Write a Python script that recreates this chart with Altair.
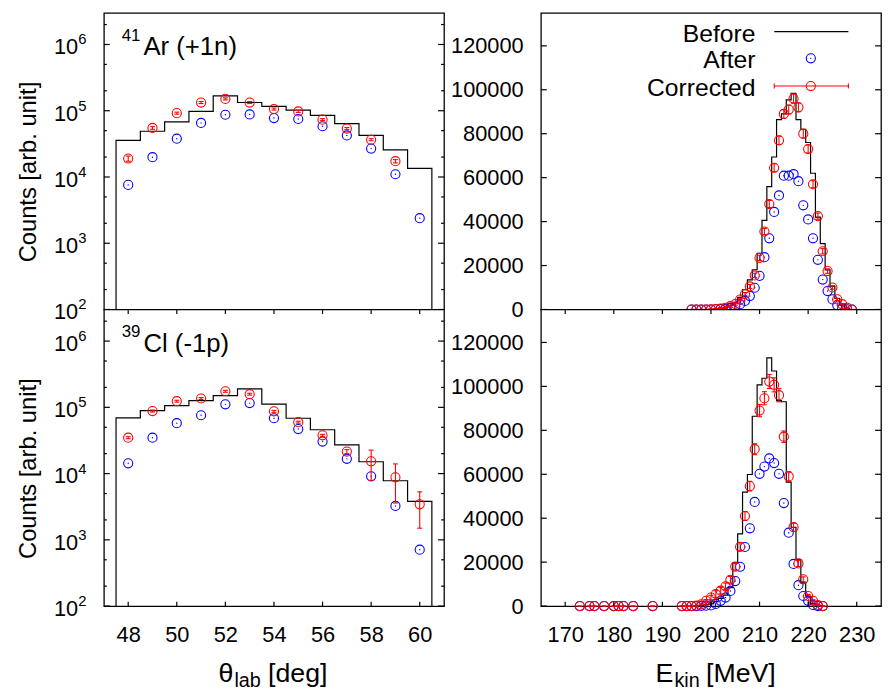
import altair as alt
import pandas as pd

FONT = "Liberation Sans"
W, H = 344, 300
BLUE = "#0000ff"
RED = "#ff0000"

# ---------------- left panels: theta_lab distributions (log scale) ----------------
theta = [48, 49, 50, 51, 52, 53, 54, 55, 56, 57, 58, 59, 60]
ar_before = [35600, 49000, 67800, 97700, 167500, 133000, 116000, 102400, 85000, 64000, 42400, 25600, 13500]
ar_after = [7600, 19900, 37800, 65500, 87000, 88000, 77600, 75000, 58300, 42400, 26800, 11000, 2390]
ar_corr_theta = [48, 49, 50, 51, 52, 53, 54, 55, 56, 57, 58, 59]
ar_corr = [19000, 55000, 92000, 133000, 151000, 133000, 106000, 97700, 73400, 53800, 36500, 17300]
ar_corr_lo = [17300, 52500, 88800, 128400, 145800, 128400, 102300, 94300, 70900, 51900, 35200, 16300]
ar_corr_hi = [20700, 57500, 95200, 137600, 156200, 137600, 109700, 101100, 75900, 55700, 37800, 18300]

cl_before = [69300, 89000, 106000, 126000, 150000, 190000, 112000, 68500, 45900, 27100, 15100, 7800, 3800]
cl_after = [14300, 34800, 57700, 76000, 111000, 116000, 68500, 47000, 30400, 16700, 9100, 3250, 710]
cl_corr = [34800, 88000, 124000, 136000, 175000, 158000, 87000, 59700, 37800, 21500, 15300, 8800, 3440]
cl_corr_lo = [33600, 85000, 120000, 131500, 169000, 153000, 84000, 57700, 36500, 20000, 7900, 3600, 1500]
cl_corr_hi = [36000, 91000, 128000, 140500, 181000, 163000, 90000, 61700, 39100, 23000, 22600, 14000, 5300]

log_major = [1e2, 1e3, 1e4, 1e5, 1e6]
log_exp = ["2", "3", "4", "5", "6"]
log_minor = [2e2, 5e2, 2e3, 5e3, 2e4, 5e4, 2e5, 5e5, 2e6]
theta_ticks = [48, 50, 52, 54, 56, 58, 60]

# ---------------- right panels: E_kin distributions (linear) ----------------
ek_top = list(range(196, 230))
before_top = [0, 0, 0, 0, 100, 300, 600, 1000, 1800, 3000, 5500, 9000, 13500, 18100, 25600, 40600, 55900,
              69400, 86400, 89000, 95400, 98400, 86400, 82000, 76000, 62000, 42000, 30000, 18000, 10600,
              5000, 2000, 500, 0]
after_top = [0, 0, 0, 0, 0, 100, 200, 300, 700, 1350, 2400, 3900, 6100, 9900, 15300, 23800, 32400, 44400,
             51900, 60900, 60900, 61600, 58400, 47400, 41000, 32400, 22600, 13600, 8400, 4600, 1900, 600,
             100, 0]
corr_top = [0, 0, 0, 0, 100, 200, 400, 800, 1500, 2500, 4500, 7000, 10500, 15500, 23500, 35500, 48000,
            64500, 77000, 89000, 91000, 96000, 92000, 80000, 73000, 57000, 42500, 26500, 17500, 10000,
            4600, 2400, 800, 0]
err_top = [0, 0, 0, 0, 100, 100, 200, 300, 400, 500, 600, 700, 900, 1000, 1200, 1400, 1600, 1800, 1900,
           2000, 2000, 2100, 2000, 1900, 1800, 1600, 1400, 1200, 1000, 800, 500, 300, 200, 0]

ek_bot_hist = list(range(194, 224))
before_bot = [0, 0, 0, 100, 300, 600, 1000, 2000, 3500, 5000, 8400, 19700, 32900, 51900, 59900, 86400,
              100700, 103700, 113000, 107000, 93500, 93000, 56400, 35900, 21200, 10600, 4600, 1000, 300, 0]
ek_bot = [173, 175, 176, 178, 180, 181, 182, 184, 188, 194, 195, 196, 197, 198, 199, 200, 201, 202, 203,
          204, 205, 206, 207, 208, 209, 210, 211, 212, 213, 214, 215, 216, 217, 218, 219, 220, 221, 222, 223]
after_bot = [0, 0, 0, 0, 0, 0, 0, 0, 0, 0, 0, 0, 0, 100, 200, 300, 1000, 2400, 3900, 6900, 11400, 17900,
             26900, 35400, 47400, 60200, 63500, 67200, 65100, 60200, 46900, 33400, 19200, 9500, 4600, 2400,
             500, 0, 0]
corr_bot = [0, 0, 0, 0, 0, 0, 0, 0, 0, 0, 0, 0, 200, 800, 2400, 3900, 5500, 7000, 9000, 12000, 18000,
            27000, 41000, 54600, 71400, 89000, 94600, 102200, 100700, 96000, 77100, 59000, 35900, 19400,
            12200, 4600, 2400, 500, 0]
err_bot = [0, 0, 0, 0, 0, 0, 0, 0, 0, 0, 0, 0, 100, 300, 600, 1000, 1500, 1500, 1500, 1500, 1600, 1800,
           2000, 2200, 2500, 2800, 3000, 3200, 3200, 3000, 2600, 2200, 1800, 1400, 1100, 700, 500, 200, 0]

lin_ticks = [0, 20000, 40000, 60000, 80000, 100000, 120000]
ek_ticks = [170, 180, 190, 200, 210, 220, 230]

legend_names = ["Before", "After", "Corrected"]


# ---------------- helpers ----------------
def step_frame(centers, values, floor):
    xs = [centers[0] - 0.5]
    ys = [floor]
    for c, v in zip(centers, values):
        xs.append(c - 0.5)
        ys.append(v)
    xs.append(centers[-1] + 0.5)
    ys.append(values[-1])
    xs.append(centers[-1] + 0.5)
    ys.append(floor)
    return pd.DataFrame({"x": xs, "y": ys, "i": list(range(len(xs)))})


def label(txt, x, y, size, align="left", baseline="alphabetic", angle=0, color="black"):
    kw = dict(align=align, baseline=baseline, font=FONT, fontSize=size, color=color)
    if angle:
        kw["angle"] = angle
    return alt.Chart(pd.DataFrame({"t": [txt]})).mark_text(**kw).encode(
        x=alt.value(x), y=alt.value(y), text="t:N")


def one():
    return pd.DataFrame({"k": [0]})


def data_layers(X, Y, centers, before, floor, ax, ay, cx, cy, lo, hi):
    hist = alt.Chart(step_frame(centers, before, floor)).mark_line(
        interpolate="step-after", color="black", strokeWidth=1.2).encode(
        x=X("x"), y=Y("y"), order="i:Q")
    adf = pd.DataFrame({"x": ax, "y": ay})
    blue = alt.Chart(adf).mark_point(shape="circle", filled=False, size=85, color=BLUE,
                                     strokeWidth=1.1, opacity=1).encode(x=X("x"), y=Y("y"))
    bdot = alt.Chart(adf).mark_point(shape="circle", filled=True, size=2, color=BLUE,
                                     opacity=1).encode(x=X("x"), y=Y("y"))
    cdf = pd.DataFrame({"x": cx, "y": cy, "lo": lo, "hi": hi})
    bar = alt.Chart(cdf).mark_rule(color=RED, strokeWidth=1.1).encode(
        x=X("x"), y=Y("lo"), y2=alt.Y2("hi"))
    cap_lo = alt.Chart(cdf).mark_tick(orient="horizontal", size=5, thickness=1.1, color=RED,
                                      opacity=1).encode(x=X("x"), y=Y("lo"))
    cap_hi = alt.Chart(cdf).mark_tick(orient="horizontal", size=5, thickness=1.1, color=RED,
                                      opacity=1).encode(x=X("x"), y=Y("hi"))
    red = alt.Chart(cdf).mark_point(shape="circle", filled=False, size=85, color=RED,
                                    strokeWidth=1.1, opacity=1).encode(x=X("x"), y=Y("y"))
    return [hist, blue, bdot, bar, cap_lo, cap_hi, red]


def yticks(Y, values, length):
    df = pd.DataFrame({"v": values})
    a = alt.Chart(df).mark_rule(color="black", strokeWidth=1.2).encode(
        y=Y("v"), x=alt.value(0), x2=alt.value(length))
    b = alt.Chart(df).mark_rule(color="black", strokeWidth=1.2).encode(
        y=Y("v"), x=alt.value(W), x2=alt.value(W - length))
    return [a, b]


def xticks(X, values, length):
    df = pd.DataFrame({"v": values})
    a = alt.Chart(df).mark_rule(color="black", strokeWidth=1.2).encode(
        x=X("v"), y=alt.value(H), y2=alt.value(H - length))
    b = alt.Chart(df).mark_rule(color="black", strokeWidth=1.2).encode(
        x=X("v"), y=alt.value(0), y2=alt.value(length))
    return [a, b]


def log_labels(Y):
    df = pd.DataFrame({"v": log_major, "e": log_exp, "b": ["10"] * len(log_major)})
    base = alt.Chart(df).mark_text(align="right", baseline="alphabetic", font=FONT, fontSize=22,
                                   dy=10, color="black").encode(y=Y("v"), x=alt.value(-26), text="b:N")
    sup = alt.Chart(df).mark_text(align="left", baseline="alphabetic", font=FONT, fontSize=15,
                                  color="black").encode(y=Y("v"), x=alt.value(-26), text="e:N")
    return [base, sup]


# ---------------- scales / encodings ----------------
theta_scale = alt.Scale(domain=[47, 61], nice=False, zero=False)
log_scale = alt.Scale(type="log", domain=[100, 3e6], nice=False)
ek_scale = alt.Scale(domain=[165, 235], nice=False, zero=False)
lin_scale = alt.Scale(domain=[0, 135000], nice=False, zero=False)

theta_axis_bottom = dict(values=theta_ticks, title=None, labelPadding=18.5, labelFontSize=22,
                         labelFont=FONT, labelColor="black", ticks=False, tickSize=0,
                         domain=False, grid=False)
ek_axis_bottom = dict(values=ek_ticks, title=None, labelPadding=18.5, labelFontSize=22,
                      labelFont=FONT, labelColor="black", ticks=False, tickSize=0,
                      domain=False, grid=False)
lin_axis = dict(values=lin_ticks, title=None, format="d", labelPadding=18, labelFontSize=22,
                labelFont=FONT, labelColor="black", ticks=False, tickSize=0, domain=False, grid=False)


def mkX(scale, axis):
    def f(field):
        if axis is None:
            return alt.X(field, type="quantitative", scale=scale, axis=None)
        return alt.X(field, type="quantitative", scale=scale, axis=alt.Axis(**axis))
    return f


def mkY(scale, axis):
    def f(field):
        if axis is None:
            return alt.Y(field, type="quantitative", scale=scale, axis=None)
        return alt.Y(field, type="quantitative", scale=scale, axis=alt.Axis(**axis))
    return f


YTITLE_Y = 161

# ---------------- top-left ----------------
X = mkX(theta_scale, None)
Y = mkY(log_scale, None)
tl_layers = data_layers(X, Y, theta, ar_before, 100, theta, ar_after, ar_corr_theta, ar_corr,
                        ar_corr_lo, ar_corr_hi)
tl_layers += yticks(Y, log_major, 6) + yticks(Y, log_minor, 3) + log_labels(Y)
tl_layers += [label("Counts [arb. unit]", -76, YTITLE_Y, 24, align="center", baseline="middle", angle=270),
              label("41", 18, 28, 17), label("Ar (+1n)", 40, 43, 26)]
tl = alt.layer(*tl_layers).properties(width=W, height=H)

# ---------------- bottom-left ----------------
X = mkX(theta_scale, theta_axis_bottom)
Y = mkY(log_scale, None)
bl_layers = data_layers(X, Y, theta, cl_before, 100, theta, cl_after, theta, cl_corr,
                        cl_corr_lo, cl_corr_hi)
bl_layers += yticks(Y, log_major, 6) + yticks(Y, log_minor, 3) + xticks(X, theta_ticks, 4.5) + log_labels(Y)
bl_layers += [label("Counts [arb. unit]", -76, YTITLE_Y, 24, align="center", baseline="middle", angle=270),
              label("39", 18, 28, 17), label("Cl (-1p)", 40, 43, 26),
              label("θ", 116, 377, 27), label("lab", 132, 382, 20), label("[deg]", 166, 377, 27)]
bl = alt.layer(*bl_layers).properties(width=W, height=H)

# ---------------- top-right ----------------
X = mkX(ek_scale, None)
Y = mkY(lin_scale, lin_axis)
lo_top = [c - e for c, e in zip(corr_top, err_top)]
hi_top = [c + e for c, e in zip(corr_top, err_top)]
tr_layers = data_layers(X, Y, ek_top, before_top, 0, ek_top, after_top, ek_top, corr_top, lo_top, hi_top)
tr_layers += yticks(Y, lin_ticks, 6)
# legend
tr_layers += [
    label(legend_names[0], 217, 21, 25, align="right", baseline="middle"),
    label(legend_names[1], 217, 48, 25, align="right", baseline="middle"),
    label(legend_names[2], 217, 76, 25, align="right", baseline="middle"),
    alt.Chart(one()).mark_rule(color="black", strokeWidth=1.2).encode(
        x=alt.value(236), x2=alt.value(311), y=alt.value(19)),
    alt.Chart(one()).mark_point(shape="circle", filled=False, size=85, color=BLUE, strokeWidth=1.1,
                                opacity=1).encode(x=alt.value(273), y=alt.value(46)),
    alt.Chart(one()).mark_point(shape="circle", filled=True, size=2, color=BLUE,
                                opacity=1).encode(x=alt.value(273), y=alt.value(46)),
    alt.Chart(one()).mark_rule(color=RED, strokeWidth=1.1).encode(
        x=alt.value(236), x2=alt.value(311), y=alt.value(74)),
    alt.Chart(one()).mark_rule(color=RED, strokeWidth=1.1).encode(
        x=alt.value(236), y=alt.value(71.5), y2=alt.value(76.5)),
    alt.Chart(one()).mark_rule(color=RED, strokeWidth=1.1).encode(
        x=alt.value(311), y=alt.value(71.5), y2=alt.value(76.5)),
    alt.Chart(one()).mark_point(shape="circle", filled=False, size=85, color=RED, strokeWidth=1.1,
                                opacity=1).encode(x=alt.value(273), y=alt.value(74)),
]
tr = alt.layer(*tr_layers).properties(width=W, height=H)

# ---------------- bottom-right ----------------
X = mkX(ek_scale, ek_axis_bottom)
Y = mkY(lin_scale, lin_axis)
lo_bot = [c - e for c, e in zip(corr_bot, err_bot)]
hi_bot = [c + e for c, e in zip(corr_bot, err_bot)]
br_layers = data_layers(X, Y, ek_bot_hist, before_bot, 0, ek_bot, after_bot, ek_bot, corr_bot, lo_bot, hi_bot)
br_layers += yticks(Y, lin_ticks, 6) + xticks(X, ek_ticks, 4.5)
br_layers += [label("E", 116, 377, 27), label("kin", 135, 382, 20), label("[MeV]", 167, 377, 27)]
br = alt.layer(*br_layers).properties(width=W, height=H)

chart = alt.concat(tl, tr, bl, br, columns=2, spacing={"row": 0, "column": 98}, bounds="flush").properties(
    padding={"left": 8, "top": 0, "right": 0, "bottom": 0}, background="white"
).configure_view(stroke="black", strokeWidth=1.3, fill="white")

chart.save("out.html", embed_options={"renderer": "svg", "actions": False})
